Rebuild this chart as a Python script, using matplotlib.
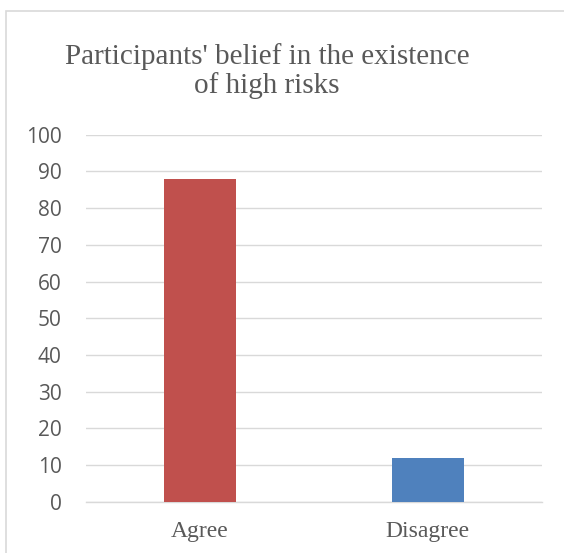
import matplotlib
matplotlib.use("Agg")
import matplotlib.pyplot as plt
from matplotlib.patches import Rectangle

# Data
categories = ["Agree", "Disagree"]
values = [88, 12]
bar_colors = ["#C0504D", "#4F81BD"]
y_ticks = list(range(0, 101, 10))

TEXT = "#595959"
GRID = "#D9D9D9"

fig = plt.figure(figsize=(5.64, 5.53), dpi=100)

# chart-area border (only left and top visible; runs off the image)
fig.patches.append(Rectangle((6 / 564, -0.1), 1.2, 1.1 - 11 / 553,
                             transform=fig.transFigure, fill=False,
                             edgecolor=GRID, linewidth=1.2))

ax = fig.add_axes([86 / 564, 1 - 501.7 / 553, (541.5 - 86) / 564, (501.7 - 134.7) / 553])
ax.bar(range(len(categories)), values, width=0.317, color=bar_colors, zorder=3)

ax.set_xlim(-0.5, len(categories) - 0.5)
ax.set_ylim(0, 100)
ax.set_yticks(y_ticks)
ax.set_yticklabels([str(t) for t in y_ticks], fontfamily="Open Sans",
                   fontsize=15, color=TEXT)
ax.set_xticks(range(len(categories)))
ax.set_xticklabels(categories, fontfamily="Liberation Serif", fontsize=17, color=TEXT)
ax.tick_params(axis="y", length=0, pad=17.5)
ax.tick_params(axis="x", length=0, pad=14)

ax.grid(axis="y", color=GRID, linewidth=1.0, zorder=0)
ax.set_axisbelow(True)
for side in ("top", "right", "left"):
    ax.spines[side].set_visible(False)
ax.spines["bottom"].set_color(GRID)
ax.spines["bottom"].set_linewidth(1.0)

fig.text(267 / 564, 1 - 71 / 553,
         "Participants' belief in the existence\nof high risks",
         ha="center", va="center", multialignment="center",
         fontfamily="Liberation Serif", fontsize=21, color=TEXT,
         linespacing=1.12)

fig.savefig("out.png", dpi=100)
